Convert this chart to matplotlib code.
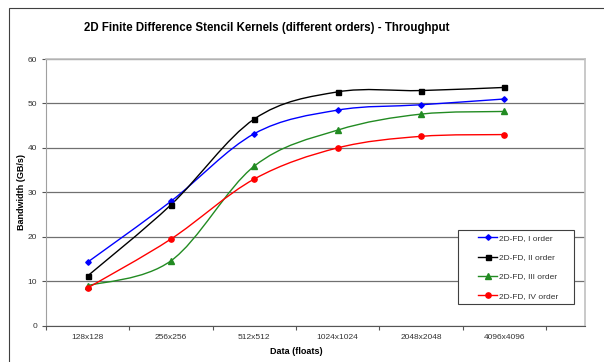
import matplotlib
matplotlib.use("Agg")
import matplotlib.pyplot as plt
from matplotlib.path import Path
from matplotlib.patches import PathPatch, Rectangle
from matplotlib.lines import Line2D
import numpy as np

plt.rcParams['font.family'] = ['Liberation Sans', 'DejaVu Sans']

categories = ["128x128", "256x256", "512x512", "1024x1024", "2048x2048", "4096x4096"]
order1 = [14.3, 28.0, 43.2, 48.5, 49.7, 51.0]
order2 = [11.2, 27.2, 46.5, 52.6, 52.9, 53.6]
order3 = [9.0, 14.6, 35.9, 44.0, 47.6, 48.2]
order4 = [8.5, 19.5, 33.0, 40.0, 42.6, 43.0]
labels = ["2D-FD, I order", "2D-FD, II order", "2D-FD, III order", "2D-FD, IV order"]
series = [order1, order2, order3, order4]
colors = ["#0000FF", "#000000", "#228B22", "#FF0000"]
markers = ["D", "s", "^", "o"]
msizes = [2.8, 3.6, 4.2, 3.8]

W, H = 604, 362
fig = plt.figure(figsize=(W / 100, H / 100), dpi=100)
fig.patch.set_facecolor("white")

# outer chart frame (cut at right/bottom)
fig.add_artist(Rectangle((9 / W, -0.05), 1.1, (H - 8) / H + 0.05, transform=fig.transFigure,
                         fill=False, edgecolor="#404040", linewidth=0.8))

L, R, T, B = 46, 585, 59, 325.7
ax = fig.add_axes([L / W, (H - B) / H, (R - L) / W, (B - T) / H])
ax.set_ylim(0, 60)
xmax = 5.5 + (R - 546) / 83.0
ax.set_xlim(-0.5, xmax)
ax.set_yticks(np.arange(0, 61, 10))
ax.yaxis.grid(True, color="#707070", linewidth=0.9)
ax.set_axisbelow(True)
ax.set_xticks(np.arange(-0.5, 6.0, 1.0))
ax.set_xticklabels([])
ax.set_xticks(np.arange(len(categories)), minor=True)
ax.set_xticklabels(categories, minor=True)
ax.tick_params(axis="x", which="minor", length=0, labelsize=6, colors="#333333", pad=6)
ax.tick_params(axis="x", which="major", length=3, direction="out", color="#555555")
ax.tick_params(axis="y", length=3, direction="out", labelsize=6, colors="#555555", labelcolor="#333333")
for s in ["top", "right"]:
    ax.spines[s].set_color("#C0C0C0")
    ax.spines[s].set_linewidth(1.2)
ax.spines["left"].set_color("#A0A0A0")
ax.spines["bottom"].set_color("#555555")

def smooth_path(xs, ys):
    pts = np.column_stack([xs, ys]).astype(float)
    n = len(pts)
    verts = [pts[0]]
    codes = [Path.MOVETO]
    for i in range(n - 1):
        p0 = pts[max(i - 1, 0)]
        p1 = pts[i]
        p2 = pts[i + 1]
        p3 = pts[min(i + 2, n - 1)]
        c1 = p1 + (p2 - p0) / 6.0
        c2 = p2 - (p3 - p1) / 6.0
        verts += [c1, c2, p2]
        codes += [Path.CURVE4] * 3
    return Path(verts, codes)

x = np.arange(len(categories))
handles = []
for vals, c, m, ms, lab in zip(series, colors, markers, msizes, labels):
    ax.add_patch(PathPatch(smooth_path(x, vals), facecolor="none", edgecolor=c, linewidth=1.0, zorder=3))
    ax.plot(x, vals, linestyle="none", marker=m, color=c, markersize=ms, zorder=4)
    handles.append(Line2D([], [], color=c, marker=m, markersize=ms, linewidth=1.0, label=lab))

# legend frame
fig.add_artist(Rectangle((458 / W, 1 - 304 / H), (574 - 458) / W, (304 - 230) / H,
                         transform=fig.transFigure, facecolor="white",
                         edgecolor="#404040", linewidth=0.8, zorder=5))
leg = fig.legend(handles=handles, loc="upper left",
                 bbox_to_anchor=(478 / W, 1 - 234.5 / H),
                 fontsize=6, frameon=False, handlelength=2.3,
                 handletextpad=0.2, labelspacing=1.35, borderpad=0.0, borderaxespad=0)
leg.set_zorder(6)
for t in leg.get_texts():
    t.set_color("#333333")

fig.text(267 / W, 1 - 28 / H, "2D Finite Difference Stencil Kernels (different orders) - Throughput",
         ha="center", va="center", fontsize=8.3, fontweight="bold")
fig.text((L + 546) / 2 / W, 1 - 352 / H, "Data (floats)", ha="center", va="center",
         fontsize=6.5, fontweight="bold")
fig.text(22 / W, 1 - 192 / H, "Bandwidth (GB/s)", ha="center", va="center", rotation=90,
         fontsize=6.5, fontweight="bold")

fig.savefig("out.png", dpi=100, facecolor="white")
